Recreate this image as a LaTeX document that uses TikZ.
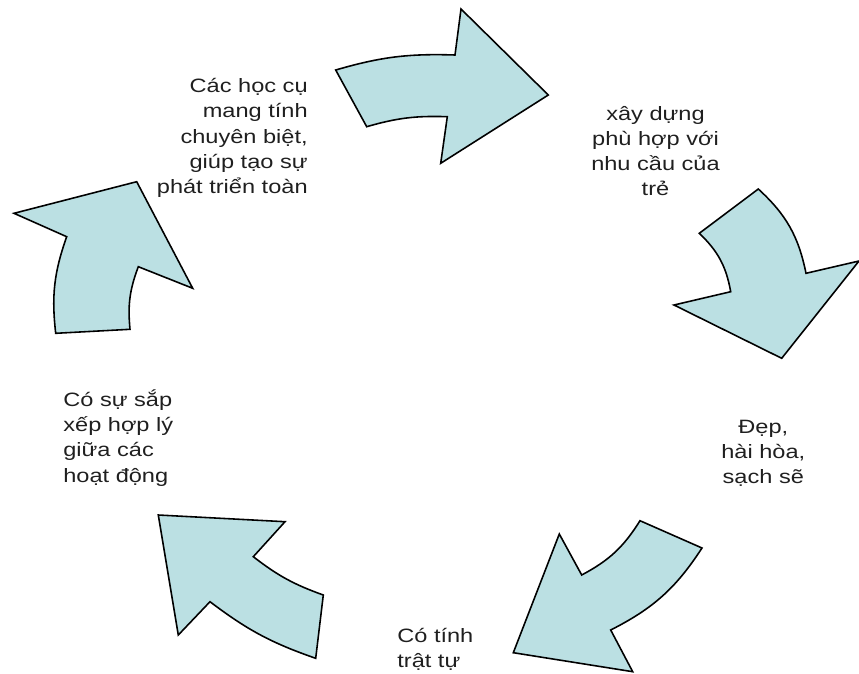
\documentclass[tikz,border=0pt]{standalone}
\usepackage{fontspec}
\usepackage{tikz}
\newfontfamily\labelfont[FakeStretch=1.22]{Liberation Sans}
\definecolor{arrowfill}{HTML}{BBE0E3}
\definecolor{labelgray}{HTML}{1F1F1F}

\begin{document}
\begin{tikzpicture}[x=0.02cm,y=-0.02cm]
\tikzstyle{every node}+=[inner sep=0pt]
\tikzstyle{cyclearrow}=[draw=black, fill=arrowfill, line width=0.9pt]
\tikzstyle{steptext}=[text=labelgray, font=\labelfont\fontsize{11}{14.3}\selectfont]
\useasboundingbox (0,0) rectangle (859,673);
\draw [cyclearrow] (335.7,70) to[bend left=9] (455,55) -- (461,9) -- (548.3,95) -- (440.7,163.3) -- (447.3,116.7) to[bend right=9] (366.7,126.7) -- cycle;
\draw [cyclearrow] (758.3,189) to[bend left=18] (806,273.3) -- (859,261) -- (781.7,358.3) -- (674,305) -- (730.7,291.7) to[bend right=18] (699.3,233.3) -- cycle;
\draw [cyclearrow] (702,548) to[bend left=15] (610.7,630) -- (632.7,671.7) -- (513.3,652.7) -- (559.3,534) -- (581.7,575) to[bend right=15] (640,520.7) -- cycle;
\draw [cyclearrow] (315.7,658.3) to[bend left=9] (210,601.7) -- (178.3,635) -- (158.3,515) -- (285,521.7) -- (253.3,556.7) to[bend right=9] (323.3,595) -- cycle;
\draw [cyclearrow] (55.7,333.3) to[bend left=13] (66.7,236.7) -- (14,213.3) -- (136.7,181.7) -- (192.7,288.3) -- (138.3,266.7) to[bend right=13] (130,329.3) -- cycle;
\node [steptext, anchor=east, align=right] (hocchuyenbiet) at (308,138) {Các học cụ\\mang tính\\chuyên biệt,\\giúp tạo sự\\phát triển toàn};
\node [steptext, align=center] (phuhop) at (655.5,151) {xây dựng\\phù hợp với\\nhu cầu của\\trẻ};
\node [steptext, align=center] (depsach) at (763.3,453.5) {Đẹp,\\hài hòa,\\sạch sẽ};
\node [steptext, anchor=west, align=left] (trattu) at (397,649) {Có tính\\trật tự};
\node [steptext, anchor=west, align=left] (sapxep) at (63,438) {Có sự sắp\\xếp hợp lý\\giữa các\\hoạt động};
\end{tikzpicture}
\end{document}
